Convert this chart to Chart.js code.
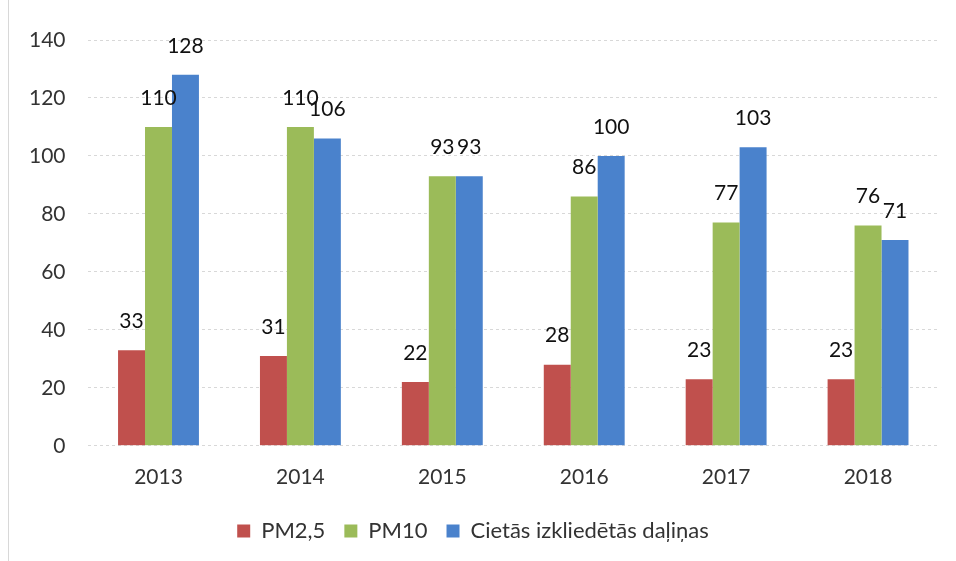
<!DOCTYPE html>
<html>
<head>
<meta charset="utf-8">
<script src="https://cdn.jsdelivr.net/npm/chart.js@4.4.0/dist/chart.umd.min.js"></script>
<style>
  html, body { margin: 0; padding: 0; background: #fff; }
  #wrap { position: relative; width: 956px; height: 561px; }
  #wrap:before { content: ''; position: absolute; left: 8px; top: 0; bottom: 0; border-left: 1px solid #d8d8d8; }
</style>
</head>
<body>
<div id="wrap"><canvas id="chart" width="956" height="561"></canvas></div>
<script>
// dati
var years = ['2013', '2014', '2015', '2016', '2017', '2018'];
var pm25 = [33, 31, 22, 28, 23, 23];
var pm10 = [110, 110, 93, 86, 77, 76];
var cietas = [128, 106, 93, 100, 103, 71];
var yTicks = [0, 20, 40, 60, 80, 100, 120, 140];

// vērtības virs stabiņiem
var valueLabels = {
  id: 'valueLabels',
  afterDatasetsDraw: function(chart) {
    var ctx = chart.ctx;
    ctx.save();
    ctx.font = '21px Lato, "Open Sans", sans-serif';
    ctx.fillStyle = '#111';
    ctx.textAlign = 'center';
    ctx.textBaseline = 'middle';
    chart.data.datasets.forEach(function(ds, i) {
      chart.getDatasetMeta(i).data.forEach(function(bar, j) {
        ctx.fillText(ds.data[j], bar.x, bar.y - 29);
      });
    });
    ctx.restore();
  }
};

var ctx = document.getElementById('chart').getContext('2d');
var chart = new Chart(ctx, {
  type: 'bar',
  data: {
    labels: years,
    datasets: [
      { label: 'PM2,5', data: pm25, backgroundColor: '#c0504d' },
      { label: 'PM10', data: pm10, backgroundColor: '#9bbb59' },
      { label: 'Cietās izkliedētās daļiņas', data: cietas, backgroundColor: '#4a82cc' }
    ]
  },
  options: {
    responsive: false,
    animation: false,
    layout: { padding: { top: 40, right: 17, left: 7, bottom: 9 } },
    datasets: { bar: { barPercentage: 1, categoryPercentage: 0.57 } },
    scales: {
      x: {
        grid: { display: false },
        border: { display: false },
        ticks: { color: '#333', padding: 11, font: { family: 'Lato', size: 21 } }
      },
      y: {
        min: 0,
        max: 140,
        afterBuildTicks: function(axis) {
          axis.ticks = yTicks.map(function(v) { return { value: v }; });
        },
        grid: { color: '#d8d8d8', drawTicks: false },
        border: { display: false, dash: [3, 3] },
        ticks: { color: '#333', padding: 22, font: { family: 'Lato', size: 21 } }
      }
    },
    plugins: {
      legend: {
        position: 'bottom',
        labels: {
          color: '#333',
          boxWidth: 13,
          boxHeight: 13,
          padding: 19,
          font: { family: 'Lato', size: 22 }
        }
      },
      tooltip: { enabled: false }
    }
  },
  plugins: [valueLabels]
});
</script>
</body>
</html>
